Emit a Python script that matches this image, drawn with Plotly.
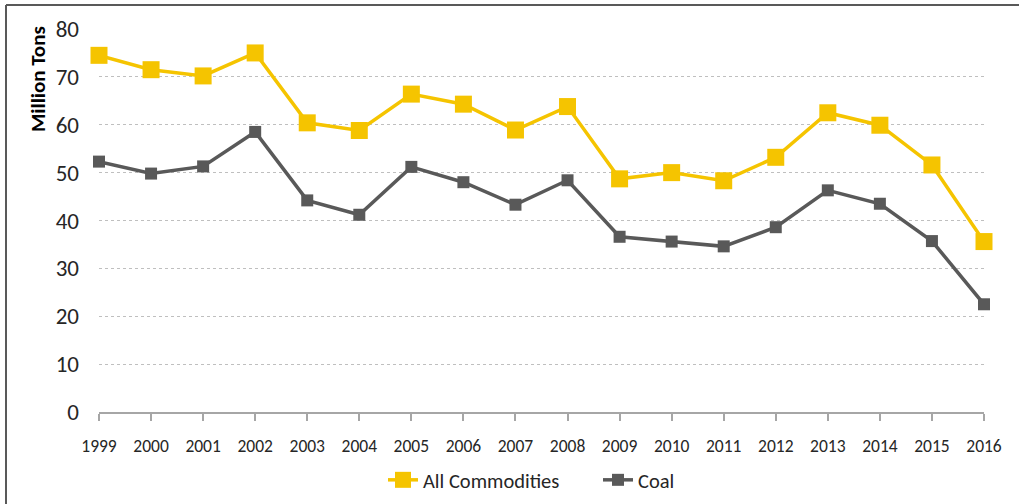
import plotly.graph_objects as go

years = [1999, 2000, 2001, 2002, 2003, 2004, 2005, 2006, 2007, 2008,
         2009, 2010, 2011, 2012, 2013, 2014, 2015, 2016]
all_commodities = [74.5, 71.5, 70.2, 75.0, 60.4, 58.8, 66.4, 64.3, 58.9, 63.8,
                   48.7, 50.0, 48.3, 53.2, 62.5, 59.9, 51.6, 35.6]
coal = [52.3, 49.8, 51.3, 58.5, 44.2, 41.2, 51.2, 48.0, 43.3, 48.4,
        36.6, 35.6, 34.6, 38.6, 46.3, 43.5, 35.7, 22.5]
y_ticks = [0, 10, 20, 30, 40, 50, 60, 70, 80]

YELLOW = "#F5C400"
GRAY = "#595959"
FONT = "Carlito, Lato, 'Open Sans', sans-serif"

fig = go.Figure()
fig.add_trace(go.Scatter(
    x=years, y=all_commodities, name="All Commodities", mode="lines+markers",
    line=dict(color=YELLOW, width=3.5),
    marker=dict(symbol="square", size=17, color=YELLOW),
    cliponaxis=False,
))
fig.add_trace(go.Scatter(
    x=years, y=coal, name="Coal", mode="lines+markers",
    line=dict(color=GRAY, width=3.5),
    marker=dict(symbol="square", size=12, color=GRAY),
    cliponaxis=False,
))

W, H = 1019, 504
L, R, T, B = 99, 35, 29, 92
pw, ph = W - L - R, H - T - B

def px_x(p):
    return (p - L) / pw

def px_y(p):
    return (H - B - p) / ph

fig.update_layout(
    width=W, height=H,
    margin=dict(l=L, r=R, t=T, b=B, autoexpand=False),
    paper_bgcolor="white", plot_bgcolor="white",
    font=dict(family=FONT, color="#262626"),
    showlegend=True,
    legend=dict(orientation="h", x=px_x(383), xanchor="left",
                y=px_y(480), yanchor="middle",
                font=dict(size=20.5, color="#262626"),
                entrywidth=170, entrywidthmode="pixels",
                itemwidth=30, tracegroupgap=0),
    xaxis=dict(
        range=[1999, 2016], tickvals=years, ticktext=[str(y) for y in years],
        showgrid=False, zeroline=False,
        showline=True, linecolor="#A6A6A6", linewidth=1.5,
        ticks="outside", ticklen=7, tickcolor="#A6A6A6", tickwidth=1.5,
        tickfont=dict(size=17.5, color="#262626"),
        ticklabelstandoff=10,
    ),
    yaxis=dict(
        range=[0, 80], tickvals=y_ticks,
        showgrid=True, gridcolor="#BFBFBF", griddash="dot", gridwidth=1,
        zeroline=False, showline=False, ticks="",
        tickfont=dict(size=23, color="#262626"),
        ticklabelstandoff=19,
    ),
    annotations=[
        dict(text="<b>Million Tons</b>", xref="paper", yref="paper",
             x=px_x(38), y=px_y(79), xanchor="center", yanchor="middle",
             textangle=-90, showarrow=False,
             font=dict(size=21, color="#000000", family=FONT)),
    ],
    shapes=[
        dict(type="line", xref="paper", yref="paper",
             x0=px_x(6), x1=px_x(1030), y0=px_y(5), y1=px_y(5),
             line=dict(color=GRAY, width=2)),
        dict(type="line", xref="paper", yref="paper",
             x0=px_x(6), x1=px_x(6), y0=px_y(5), y1=px_y(520),
             line=dict(color=GRAY, width=2)),
    ],
)

fig.write_html("out.html",
               config={"displayModeBar": False},
               post_script="document.body.style.margin='0';document.body.style.overflow='hidden';")
